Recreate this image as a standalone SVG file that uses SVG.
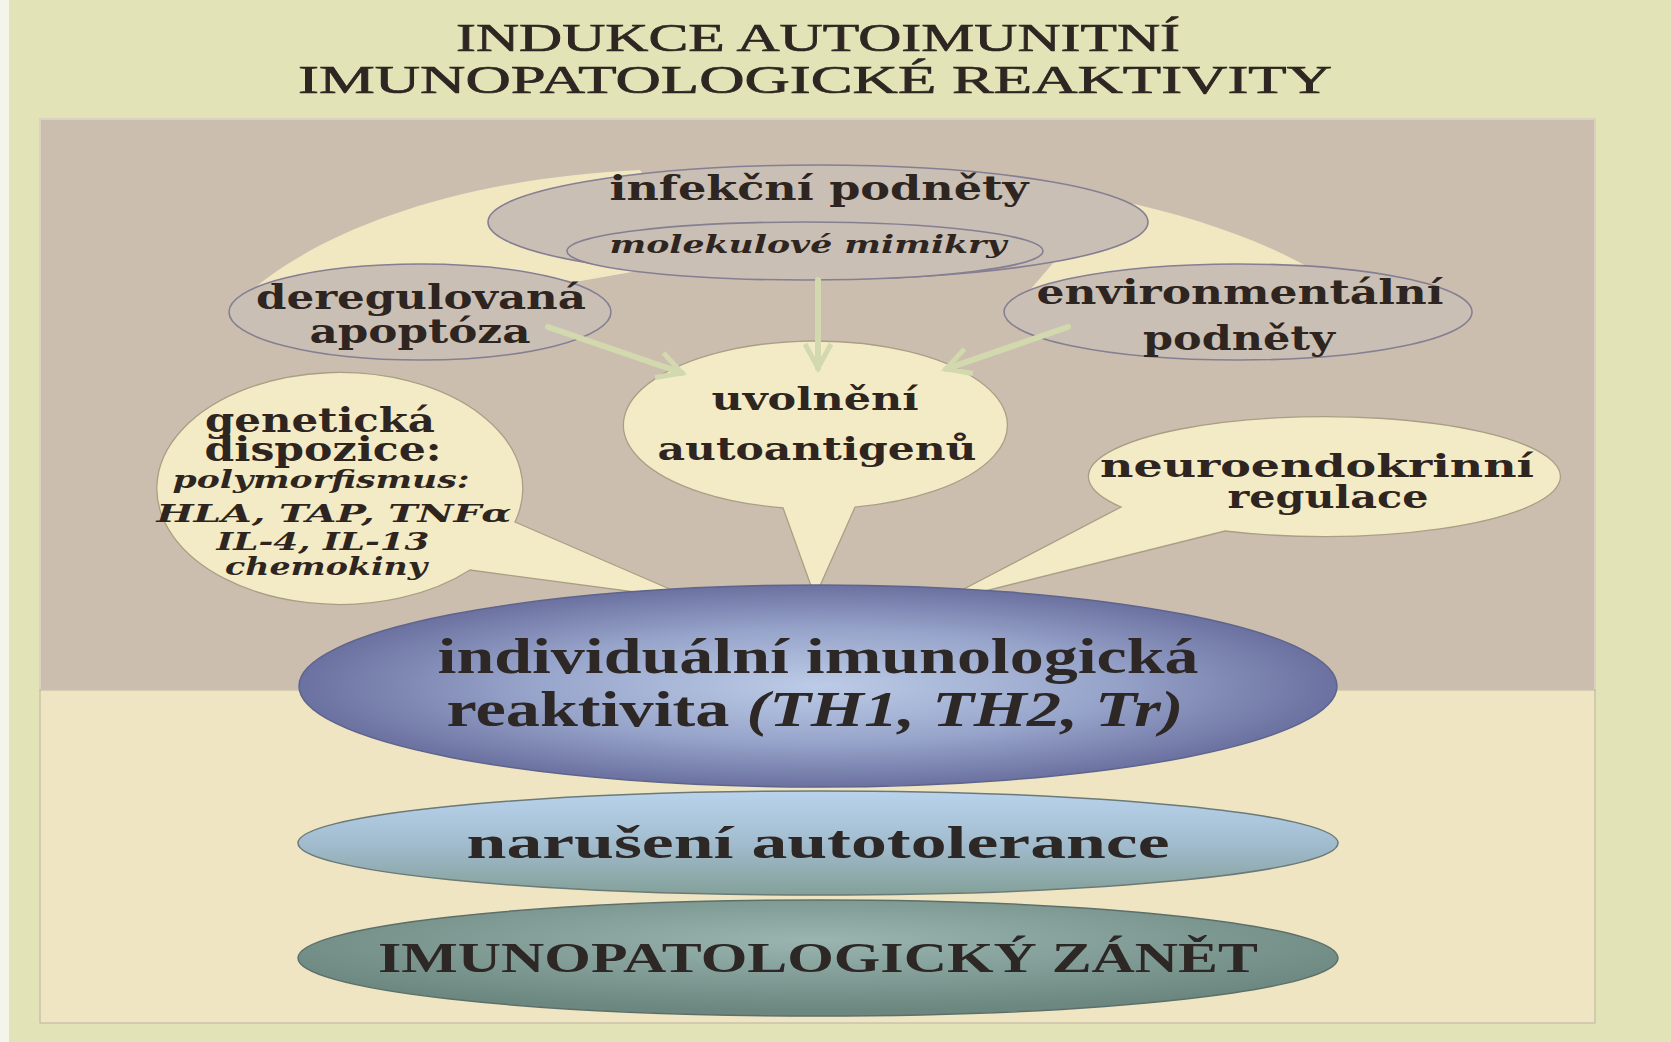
<svg xmlns="http://www.w3.org/2000/svg" width="1671" height="1042" viewBox="0 0 1671 1042">
<defs>
<style>
.title{font-family:"Liberation Serif","Times New Roman",serif;font-size:40px;fill:#2e2622;stroke:#2e2622;stroke-width:0.7;text-anchor:middle}
.nb{font-family:"DejaVu Serif",serif;font-weight:bold;fill:#2f2520;text-anchor:middle}
.ni{font-family:"DejaVu Serif",serif;font-weight:bold;font-style:italic;fill:#2f2520;text-anchor:middle}
.tb{font-family:"Liberation Serif","Times New Roman",serif;font-weight:bold;fill:#2d2826;text-anchor:middle}
.gray{fill:#c9bfb4;stroke:#857f93;stroke-width:1.6}
.bub{fill:#f3ebc6;stroke:#a99f86;stroke-width:1.3}
.arr{stroke:#d3d9ae;stroke-width:6;fill:none;stroke-linecap:round}
.cream{fill:#f1e8c2}
</style>
<marker id="ah" markerUnits="userSpaceOnUse" markerWidth="40" markerHeight="40" refX="0" refY="0" viewBox="-30 -20 40 40" orient="auto">
<path d="M -24,-13 L 0,0 L -24,13" fill="none" stroke="#d3d9ae" stroke-width="5" stroke-linejoin="miter"/>
</marker>
<radialGradient id="gMain" cx="0.5" cy="0.5" r="0.5">
<stop offset="0" stop-color="#bccbe6"/>
<stop offset="0.55" stop-color="#98a5cb"/>
<stop offset="1" stop-color="#6b71a0"/>
</radialGradient>
<linearGradient id="gNar" x1="0" y1="0" x2="0" y2="1">
<stop offset="0" stop-color="#b9d3ec"/>
<stop offset="0.5" stop-color="#a2bccf"/>
<stop offset="1" stop-color="#83a098"/>
</linearGradient>
<radialGradient id="gZan" cx="0.5" cy="0.35" r="0.6">
<stop offset="0" stop-color="#9ab5b0"/>
<stop offset="1" stop-color="#6b877f"/>
</radialGradient>
</defs>

<rect x="0" y="0" width="1671" height="1042" fill="#e2e3b6"/>
<rect x="0" y="0" width="9" height="1042" fill="#f4f4ea"/>
<rect x="40" y="119" width="1555" height="571" fill="#cbbeae" stroke="#dbd1c2" stroke-width="2"/>
<rect x="40" y="690" width="1555" height="333" fill="#efe5c2" stroke="#b9b39e" stroke-width="1"/>

<g id="title">
<text class="title" x="818" y="51" textLength="724" lengthAdjust="spacingAndGlyphs">INDUKCE  AUTOIMUNITNÍ</text>
<text class="title" x="815" y="93" textLength="1034" lengthAdjust="spacingAndGlyphs">IMUNOPATOLOGICKÉ  REAKTIVITY</text>
</g>

<g id="cream-sweeps">
<path class="cream" d="M 229,312 C 290,245 430,180 640,170 L 700,260 L 575,282 C 480,262 330,262 229,312 Z"/>
<path class="cream" d="M 1115,200 C 1190,215 1260,240 1310,268 L 1030,290 L 1060,255 Z"/>
</g>

<g id="node-infekcni">
<ellipse class="gray" cx="818" cy="222" rx="330" ry="57"/>
<ellipse class="gray" cx="805" cy="251" rx="238" ry="29"/>
<text class="nb" x="819" y="200" font-size="33" textLength="419" lengthAdjust="spacingAndGlyphs">infekční  podněty</text>
<text class="ni" x="808" y="253" font-size="25" textLength="397" lengthAdjust="spacingAndGlyphs">molekulové  mimikry</text>
</g>

<g id="node-deregulovana">
<ellipse class="gray" cx="420" cy="312" rx="191" ry="48"/>
<text class="nb" x="421" y="309" font-size="33" textLength="330" lengthAdjust="spacingAndGlyphs">deregulovaná</text>
<text class="nb" x="420" y="343" font-size="33" textLength="221" lengthAdjust="spacingAndGlyphs">apoptóza</text>
</g>

<g id="node-environmentalni">
<ellipse class="gray" cx="1238" cy="312" rx="234" ry="48"/>
<text class="nb" x="1240" y="304" font-size="33" textLength="407" lengthAdjust="spacingAndGlyphs">environmentální</text>
<text class="nb" x="1239" y="350" font-size="33" textLength="192" lengthAdjust="spacingAndGlyphs">podněty</text>
</g>

<g id="node-uvolneni">
<path class="bub" d="M 783,507.8 A 192,84 0 1 1 855,507.2 L 815,597 Z"/>
<text class="nb" x="815" y="410" font-size="32" textLength="207" lengthAdjust="spacingAndGlyphs">uvolnění</text>
<text class="nb" x="817" y="460" font-size="32" textLength="319" lengthAdjust="spacingAndGlyphs">autoantigenů</text>
</g>

<g id="node-geneticka">
<path class="bub" d="M 515,522 A 183,116 0 1 0 470,570 L 695,600 Z"/>
<text class="nb" x="320" y="432" font-size="33" textLength="230" lengthAdjust="spacingAndGlyphs">genetická</text>
<text class="nb" x="323" y="461" font-size="33" textLength="237" lengthAdjust="spacingAndGlyphs">dispozice:</text>
<text class="ni" x="321" y="488" font-size="25" textLength="297" lengthAdjust="spacingAndGlyphs">polymorfismus:</text>
<text class="ni" x="334" y="522" font-size="25" textLength="355" lengthAdjust="spacingAndGlyphs">HLA, TAP, TNFα</text>
<text class="ni" x="323" y="550" font-size="25" textLength="213" lengthAdjust="spacingAndGlyphs">IL-4, IL-13</text>
<text class="ni" x="326" y="575" font-size="25" textLength="202" lengthAdjust="spacingAndGlyphs">chemokiny</text>
</g>

<g id="node-neuroendokrinni">
<path class="bub" d="M 1121,507 A 236,60 0 1 1 1225,531 L 937,603 Z"/>
<text class="nb" x="1317" y="477" font-size="31" textLength="434" lengthAdjust="spacingAndGlyphs">neuroendokrinní</text>
<text class="nb" x="1328" y="508" font-size="31" textLength="201" lengthAdjust="spacingAndGlyphs">regulace</text>
</g>

<g id="connectors">
<line class="arr" x1="548" y1="327" x2="682" y2="373" marker-end="url(#ah)"/>
<line class="arr" x1="818" y1="280" x2="818" y2="368" marker-end="url(#ah)"/>
<line class="arr" x1="1068" y1="327" x2="946" y2="369" marker-end="url(#ah)"/>
</g>

<g id="node-individualni">
<ellipse cx="818" cy="686" rx="519" ry="101" fill="url(#gMain)" stroke="#5f648c" stroke-width="1.5"/>
<text class="tb" x="818" y="673" font-size="50" textLength="761" lengthAdjust="spacingAndGlyphs">individuální imunologická</text>
<text class="tb" x="815" y="726" font-size="50" textLength="737" lengthAdjust="spacingAndGlyphs">reaktivita <tspan font-style="italic">(TH1, TH2, Tr)</tspan></text>
</g>

<g id="node-naruseni">
<ellipse cx="818" cy="843" rx="520" ry="52" fill="url(#gNar)" stroke="#6b7a78" stroke-width="1.5"/>
<text class="tb" x="818" y="858" font-size="46" textLength="703" lengthAdjust="spacingAndGlyphs">narušení   autotolerance</text>
</g>

<g id="node-zanet">
<ellipse cx="818" cy="958" rx="520" ry="58" fill="url(#gZan)" stroke="#5d6f6a" stroke-width="1.5"/>
<text class="tb" x="818" y="972" font-size="42" textLength="880" lengthAdjust="spacingAndGlyphs">IMUNOPATOLOGICKÝ  ZÁNĚT</text>
</g>
</svg>
